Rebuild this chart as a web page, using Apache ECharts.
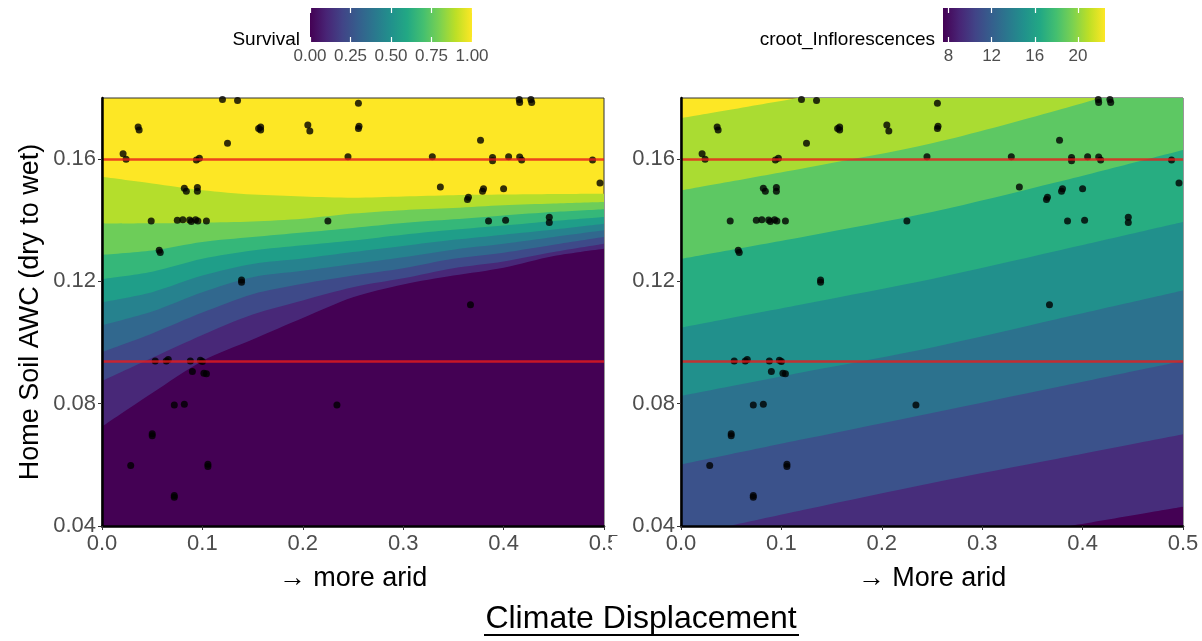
<!DOCTYPE html>
<html>
<head>
<meta charset="utf-8">
<script src="https://cdn.jsdelivr.net/npm/echarts@6.0.0/dist/echarts.min.js"></script>
<style>
  html, body { margin: 0; padding: 0; background: #ffffff; }
  #chart { width: 1202px; height: 641px; }
</style>
</head>
<body>
<div id="chart"></div>
<script>
// ---------------- DATA ----------------
// Survival panel: contour boundary heights (Home Soil AWC) read along climate displacement
const survX = [0, 0.05, 0.10, 0.15, 0.20, 0.25, 0.30, 0.35, 0.40, 0.45, 0.50];
const survLevels = [0.1, 0.2, 0.3, 0.4, 0.5, 0.6, 0.7, 0.8, 0.9];
const surv10 = [0.0725, 0.0835, 0.0940, 0.1010, 0.1080, 0.1148, 0.1190, 0.1219, 0.1245, 0.1283, 0.1307];
const surv20 = [0.0874, 0.0950, 0.1025, 0.1092, 0.1138, 0.1181, 0.1210, 0.1243, 0.1265, 0.1296, 0.1323];
const surv30 = [0.0969, 0.1030, 0.1098, 0.1158, 0.1192, 0.1219, 0.1243, 0.1274, 0.1294, 0.1320, 0.1345];
const surv40 = [0.1057, 0.1102, 0.1165, 0.1214, 0.1235, 0.1257, 0.1279, 0.1304, 0.1323, 0.1345, 0.1367];
const surv50 = [0.1132, 0.1165, 0.1219, 0.1257, 0.1275, 0.1296, 0.1316, 0.1336, 0.1353, 0.1370, 0.1389];
const surv60 = [0.1208, 0.1232, 0.1274, 0.1301, 0.1318, 0.1334, 0.1353, 0.1369, 0.1383, 0.1398, 0.1411];
const surv70 = [0.1287, 0.1301, 0.1329, 0.1345, 0.1360, 0.1375, 0.1391, 0.1403, 0.1416, 0.1427, 0.1436];
const surv80 = [0.1389, 0.1390, 0.1392, 0.1396, 0.1405, 0.1422, 0.1433, 0.1440, 0.1449, 0.1455, 0.1460];
const surv90 = [0.1542, 0.1520, 0.1498, 0.1484, 0.1478, 0.1474, 0.1478, 0.1482, 0.1484, 0.1486, 0.1487];

// croot_Inflorescences panel: contour boundaries (bottom to top)
const inflX = [0, 0.125, 0.25, 0.375, 0.5];
const inflH = [0.0183, 0.0253, 0.0323, 0.0393, 0.0463];
const inflG = [0.0366, 0.0455, 0.0541, 0.0620, 0.0700];
const inflF = [0.0601, 0.0686, 0.0770, 0.0855, 0.0940];
const inflE = [0.0825, 0.0905, 0.0984, 0.1077, 0.1170];
const inflD = [0.1049, 0.1128, 0.1208, 0.1300, 0.1394];
const inflC = [0.1274, 0.1348, 0.1427, 0.1525, 0.1630];
const inflB = [0.1498, 0.1572, 0.1652, 0.1760, 0.1880];
const inflA = [0.1734, 0.1805, 0.1880, 0.1960, 0.2040];

// Observed populations (climate displacement, home soil AWC)
const pointsX = [0.120, 0.135, 0.036, 0.037, 0.158, 0.158, 0.156, 0.205, 0.207, 0.125,
  0.021, 0.024, 0.094, 0.097, 0.245, 0.082, 0.084, 0.095, 0.095, 0.049,
  0.075, 0.0805, 0.0873, 0.089, 0.0932, 0.0955, 0.104, 0.225, 0.057, 0.058,
  0.139, 0.139, 0.053, 0.064, 0.066, 0.088, 0.098, 0.100, 0.090, 0.1015,
  0.104, 0.072, 0.082, 0.234, 0.050, 0.050, 0.0286, 0.1055, 0.1055, 0.072,
  0.072, 0.2554, 0.2554, 0.256, 0.329, 0.4156, 0.416, 0.4272, 0.428, 0.377,
  0.389, 0.389, 0.405, 0.416, 0.418, 0.4886, 0.496, 0.337, 0.380, 0.379,
  0.400, 0.364, 0.365, 0.385, 0.402, 0.4455, 0.4455, 0.367];
const pointsY = [0.1795, 0.1792, 0.1705, 0.1695, 0.1705, 0.1695, 0.1700, 0.1712, 0.1692, 0.1652,
  0.1618, 0.1600, 0.1597, 0.1603, 0.1608, 0.1505, 0.1495, 0.1507, 0.1495, 0.1398,
  0.1400, 0.1402, 0.1401, 0.1396, 0.1402, 0.1398, 0.1398, 0.1398, 0.1302, 0.1295,
  0.1205, 0.1197, 0.0940, 0.0940, 0.0945, 0.0940, 0.0942, 0.0938, 0.0905, 0.0900,
  0.0898, 0.0796, 0.0798, 0.0796, 0.0702, 0.0695, 0.0598, 0.0602, 0.0595, 0.0500,
  0.0494, 0.1783, 0.1700, 0.1708, 0.1608, 0.1795, 0.1785, 0.1795, 0.1785, 0.1662,
  0.1605, 0.1595, 0.1608, 0.1607, 0.1597, 0.1597, 0.1522, 0.1509, 0.1503, 0.1495,
  0.1503, 0.1468, 0.1475, 0.1398, 0.1400, 0.1410, 0.1393, 0.1124];

const refLines = [0.16, 0.094];

const xTicks = [0, 0.1, 0.2, 0.3, 0.4, 0.5];
const yTicks = [0.04, 0.08, 0.12, 0.16];
const survLegendTicks = [0, 0.25, 0.5, 0.75, 1];
const inflLegendTicks = [8, 12, 16, 20];

// ---------------- STYLE ----------------
const FONT = "'Liberation Sans', Arial, Helvetica, sans-serif";
const viridis11 = ['#440154', '#482475', '#414487', '#355F8D', '#2A788E', '#21918C',
  '#22A884', '#44BF70', '#7AD151', '#BDDF26', '#FDE725'];
const survColors = ['#440154', '#482878', '#3E4A89', '#31688E', '#26828E', '#1F9E89',
  '#35B779', '#6DCD59', '#B4DE2C', '#FDE725'];
const inflColors = ['#440154', '#472D7B', '#3B528B', '#2C728E', '#21908C', '#27AD81',
  '#5DC863', '#AADC32', '#FDE725'];
const gradient = {
  type: 'linear', x: 0, y: 0, x2: 1, y2: 0,
  colorStops: viridis11.map((c, i) => ({ offset: i / (viridis11.length - 1), color: c }))
};

const survBounds = [surv10, surv20, surv30, surv40, surv50, surv60, surv70, surv80, surv90];
const inflBounds = [inflH, inflG, inflF, inflE, inflD, inflC, inflB, inflA];

function bandSeries(xs, bounds, colors, idx) {
  const out = [];
  for (let k = bounds.length - 1; k >= 0; k--) {
    out.push({
      type: 'line', xAxisIndex: idx, yAxisIndex: idx,
      data: xs.map((x, i) => [x, bounds[k][i]]),
      symbol: 'none', smooth: 0.3, silent: true, clip: true,
      lineStyle: { width: 0 },
      areaStyle: { color: colors[k], opacity: 1, origin: 'start' },
      z: 2
    });
  }
  return out;
}

function refSeries(idx) {
  return {
    type: 'line', xAxisIndex: idx, yAxisIndex: idx, data: [], silent: true, z: 3,
    markLine: {
      silent: true, symbol: 'none', precision: 4, label: { show: false },
      lineStyle: { color: 'rgba(232,28,28,0.8)', width: 2.5, type: 'solid' },
      data: refLines.map(v => ({ yAxis: v }))
    }
  };
}

function pointSeries(idx) {
  return {
    type: 'scatter', xAxisIndex: idx, yAxisIndex: idx,
    data: pointsX.map((x, i) => [x, pointsY[i]]),
    symbol: 'circle', symbolSize: 7, itemStyle: { color: '#000000' }, z: 4, silent: true
  };
}

function mainX(idx, name) {
  return {
    type: 'value', gridIndex: idx, min: 0, max: 0.5, z: 10,
    name: name, nameLocation: 'middle', nameGap: 39,
    nameTextStyle: { fontFamily: FONT, fontSize: 27, color: '#000000' },
    axisLine: { show: true, onZero: false, lineStyle: { color: '#000000', width: 2.5 } },
    axisTick: { show: true, length: 4, customValues: xTicks, lineStyle: { color: '#333333', width: 1 } },
    axisLabel: { customValues: xTicks, formatter: v => v.toFixed(1), fontFamily: FONT, fontSize: 22, color: '#4D4D4D', margin: 7 },
    splitLine: { show: false }
  };
}
function mainY(idx, withName) {
  return {
    type: 'value', gridIndex: idx, min: 0.04, max: 0.18, z: 10,
    name: withName ? 'Home Soil AWC (dry to wet)' : '', nameLocation: 'middle', nameGap: 58, nameRotate: 90,
    nameTextStyle: { fontFamily: FONT, fontSize: 27, color: '#000000' },
    axisLine: { show: true, onZero: false, lineStyle: { color: '#000000', width: 2.5 } },
    axisTick: { show: true, length: 4, customValues: yTicks, lineStyle: { color: '#333333', width: 1 } },
    axisLabel: { customValues: yTicks, formatter: v => v.toFixed(2), fontFamily: FONT, fontSize: 22, color: '#4D4D4D', margin: 6 },
    splitLine: { show: false }
  };
}
function legendX(idx, min, max, ticks, fmt, top) {
  return {
    type: 'value', gridIndex: idx, min: min, max: max, position: top ? 'top' : 'bottom',
    axisLine: { show: false },
    axisTick: { show: true, inside: true, length: 5, customValues: ticks, lineStyle: { color: '#ffffff', width: 1.2 } },
    axisLabel: { show: !top, customValues: ticks, formatter: fmt, fontFamily: FONT, fontSize: 17, color: '#4D4D4D', margin: 6 },
    splitLine: { show: false }
  };
}
function legendY(idx) {
  return { type: 'value', gridIndex: idx, min: 0, max: 1, show: false };
}

const option = {
  backgroundColor: '#ffffff',
  animation: false,
  grid: [
    { left: 102, top: 98, width: 502, height: 428, show: true, backgroundColor: survColors[9], borderColor: '#333333', borderWidth: 1 },
    { left: 681, top: 98, width: 502, height: 428, show: true, backgroundColor: inflColors[8], borderColor: '#333333', borderWidth: 1 },
    { left: 310, top: 8, width: 162, height: 34, show: true, backgroundColor: gradient, borderWidth: 0 },
    { left: 943, top: 8, width: 162, height: 34, show: true, backgroundColor: gradient, borderWidth: 0 }
  ],
  xAxis: [
    mainX(0, '\u2192 more arid'),
    mainX(1, '\u2192 More arid'),
    legendX(2, 0, 1, survLegendTicks, v => v.toFixed(2), false),
    legendX(2, 0, 1, survLegendTicks, v => v.toFixed(2), true),
    legendX(3, 7.5, 22.5, inflLegendTicks, v => String(v), false),
    legendX(3, 7.5, 22.5, inflLegendTicks, v => String(v), true)
  ],
  yAxis: [mainY(0, true), mainY(1, false), legendY(2), legendY(3)],
  series: [
    ...bandSeries(survX, survBounds, survColors, 0),
    refSeries(0),
    pointSeries(0),
    ...bandSeries(inflX, inflBounds, inflColors, 1),
    refSeries(1),
    pointSeries(1)
  ],
  graphic: [
    { type: 'rect', x: 612, y: 536, z: 50, shape: { width: 20, height: 26 }, style: { fill: '#ffffff' } },
    { type: 'text', x: 300, y: 40, z: 50, style: { text: 'Survival', font: '19px ' + FONT, fill: '#000000', align: 'right', verticalAlign: 'middle' } },
    { type: 'text', x: 935, y: 40, z: 50, style: { text: 'croot_Inflorescences', font: '19px ' + FONT, fill: '#000000', align: 'right', verticalAlign: 'middle' } },
    { type: 'text', x: 641, y: 619, z: 50, style: { text: 'Climate Displacement', font: '32px ' + FONT, fill: '#000000', align: 'center', verticalAlign: 'middle' } },
    { type: 'rect', x: 484, y: 634, z: 50, shape: { width: 315, height: 2 }, style: { fill: '#000000' } }
  ]
};

const chart = echarts.init(document.getElementById('chart'), null, { renderer: 'canvas' });
chart.setOption(option);
</script>
</body>
</html>
